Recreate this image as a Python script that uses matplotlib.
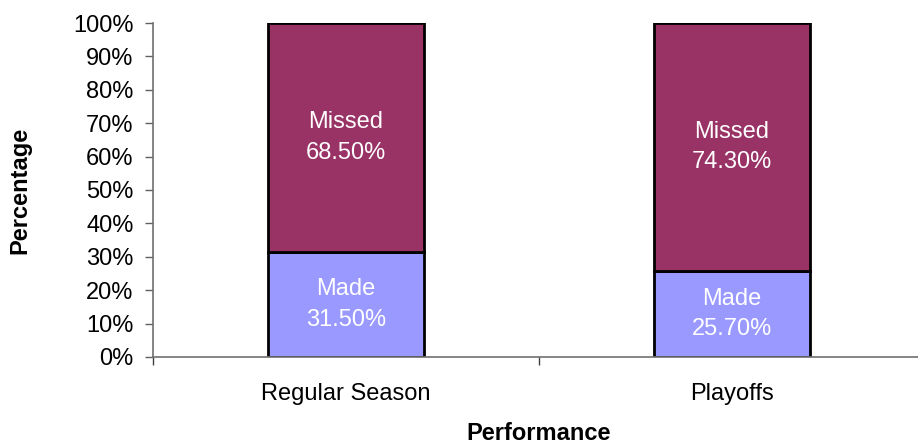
import matplotlib
matplotlib.use("Agg")
import matplotlib.pyplot as plt
from matplotlib.ticker import FixedLocator, PercentFormatter

# shooting percentages, regular season vs playoffs
categories = ["Regular Season", "Playoffs"]
made = [31.5, 25.7]
missed = [68.5, 74.3]
yticks = list(range(0, 101, 10))

plt.rcParams['font.family'] = ['Liberation Sans', 'DejaVu Sans']
plt.rcParams['font.size'] = 17

fig = plt.figure(figsize=(9.18, 4.46), dpi=100)
ax = fig.add_axes([0.1667, 0.1996, 0.8409, 0.7488])

x = list(range(len(categories)))
width = 0.404
b1 = ax.bar(x, made, width, color="#9999FF", edgecolor="black", linewidth=2)
b2 = ax.bar(x, missed, width, bottom=made, color="#993366", edgecolor="black", linewidth=2)

# white text labels inside each segment
for i in x:
    ax.text(i, made[i] / 2, "Made\n%.2f%%" % made[i], ha="center", va="center",
            color="white", linespacing=1.5)
    ax.text(i, made[i] + missed[i] / 2, "Missed\n%.2f%%" % missed[i], ha="center",
            va="center", color="white", linespacing=1.5)

ax.set_xlim(-0.5, len(categories) - 0.5)
ax.set_ylim(0, 100)
ax.set_yticks(yticks)
ax.yaxis.set_major_formatter(PercentFormatter(decimals=0))

ax.set_xticks(x)
ax.set_xticklabels(categories)
ax.xaxis.set_minor_locator(FixedLocator([-0.5, 0.5, 1.5]))
ax.tick_params(axis="x", which="major", length=0, pad=19)
ax.tick_params(axis="x", which="minor", length=6, width=1, color="#404040")
ax.tick_params(axis="y", length=6, width=1, color="#606060", pad=8)

for s in ["top", "right"]:
    ax.spines[s].set_visible(False)
for s in ["left", "bottom"]:
    ax.spines[s].set_color("#707070")
    ax.spines[s].set_linewidth(1.2)

ax.set_xlabel("Performance", fontweight="bold")
ax.set_ylabel("Percentage", fontweight="bold")
ax.xaxis.set_label_coords(0.5, -0.196)
ax.yaxis.set_label_coords(-0.158, 0.5)

fig.savefig("out.png", dpi=100)
